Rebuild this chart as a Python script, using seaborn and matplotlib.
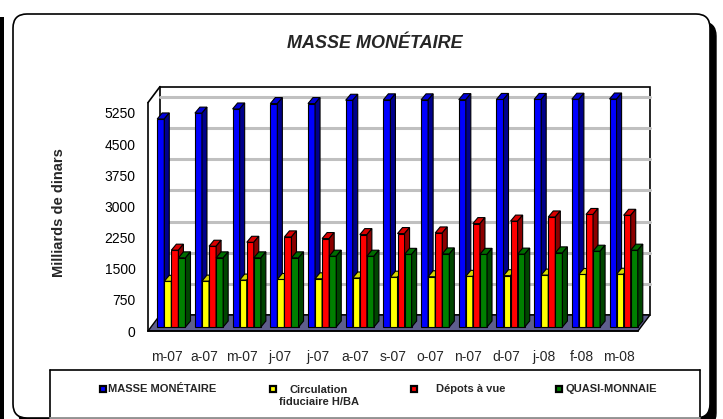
import numpy as np
import pandas as pd
import seaborn as sns
import matplotlib.pyplot as plt
from matplotlib.patches import Rectangle, Polygon, FancyBboxPatch
from matplotlib.lines import Line2D
from matplotlib.transforms import IdentityTransform
from matplotlib.colors import to_rgb

# données (milliards de dinars)
mois = ["m-07", "a-07", "m-07", "j-07", "j-07", "a-07", "s-07",
        "o-07", "n-07", "d-07", "j-08", "f-08", "m-08"]
series = ["MASSE MONÉTAIRE", "Circulation fiduciaire H/BA",
          "Dépots à vue", "QUASI-MONNAIE"]
masse = [5010, 5150, 5250, 5380, 5380, 5460, 5470, 5470, 5475, 5480, 5480, 5485, 5490]
circulation = [1100, 1105, 1130, 1145, 1160, 1180, 1200, 1210, 1220, 1235, 1250, 1265, 1270]
depots = [1850, 1945, 2040, 2170, 2130, 2225, 2250, 2265, 2490, 2550, 2650, 2710, 2690]
quasi = [1665, 1665, 1665, 1665, 1705, 1705, 1750, 1760, 1750, 1755, 1785, 1825, 1850]
yticks = [0, 750, 1500, 2250, 3000, 3750, 4500, 5250]

couleurs = ["#0000FF", "#FFFF00", "#FF0000", "#008000"]

rows = []
for nom, vals in zip(series, [masse, circulation, depots, quasi]):
    for i, v in enumerate(vals):
        rows.append({"pos": i, "serie": nom, "valeur": v})
df = pd.DataFrame(rows)

sns.set_style("white")
plt.rcParams["font.family"] = ["Liberation Sans", "DejaVu Sans"]

W, H = 723, 419
fig = plt.figure(figsize=(W / 100, H / 100), dpi=100)
pix = IdentityTransform()

# cadre arrondi avec ombre
fig.add_artist(Rectangle((0, 0), 4, H - 17, transform=pix, fc="black", ec="none", zorder=-3))
fig.add_artist(FancyBboxPatch((19, -8), 697, 405, boxstyle="round,pad=0,rounding_size=14",
                              transform=pix, fc="black", ec="black", zorder=-3))
fig.add_artist(FancyBboxPatch((13, 1), 697, 404, boxstyle="round,pad=0,rounding_size=14",
                              transform=pix, fc="white", ec="black", lw=1.2, zorder=-2))

ax = fig.add_axes([148 / W, 88 / H, 490 / W, 228.4 / H])
ax.patch.set_visible(False)

sns.barplot(data=df, x="pos", y="valeur", hue="serie", hue_order=series,
            palette=couleurs, width=0.75, saturation=1, edgecolor="black",
            linewidth=0.8, legend=False, ax=ax)
ax.set_xlim(-0.5, len(mois) - 0.5)
ax.set_ylim(0, 5500)


def decale(xd, yd, dxp, dyp):
    p = ax.transData.transform((xd, yd))
    return tuple(ax.transData.inverted().transform((p[0] + dxp, p[1] + dyp)))


def teinte(c, f):
    r, g, b = to_rgb(c)
    return (r * f, g * f, b * f)


# mur du fond, quadrillage et sol (effet 3D)
x0, x1 = -0.5, len(mois) - 0.5
bl = decale(x0, 0, 12, 16)
tr = decale(x1, 5500, 12, 16)
ax.add_patch(Rectangle(bl, tr[0] - bl[0], tr[1] - bl[1], fc="white", ec="black",
                       lw=1.2, zorder=0.5, clip_on=False))
for v in yticks[1:]:
    a = decale(x0, v, 12, 16)
    b = decale(x1, v, 12, 16)
    ax.plot([a[0], b[0]], [a[1], b[1]], color="#c0c0c0", lw=2.2, zorder=0.6, clip_on=False)
ax.add_patch(Polygon([(x0, 0), (x1, 0), decale(x1, 0, 12, 16), decale(x0, 0, 12, 16)],
                     closed=True, fc="#5E5E8C", ec="black", lw=1, zorder=0.7, clip_on=False))
hg = decale(x0, 5500, 12, 16)
ax.plot([x0, hg[0]], [5500, hg[1]], color="black", lw=1.2, zorder=0.8, clip_on=False)

# barres en relief
rgb_list = [tuple(round(c, 2) for c in to_rgb(col)) for col in couleurs]
for bar in list(ax.patches):
    if not isinstance(bar, Rectangle) or bar.get_height() <= 0 or bar.get_width() > 0.5:
        continue
    fc = tuple(round(c, 2) for c in bar.get_facecolor()[:3])
    if fc not in rgb_list:
        continue
    k = rgb_list.index(fc)
    col = couleurs[k]
    w, h = bar.get_width(), bar.get_height()
    xs, ys = decale(bar.get_x(), 0, 4.5, 4)
    bar.set_x(xs)
    bar.set_y(ys)
    bar.set_zorder(2 + k * 0.1)
    bar.set_clip_on(False)
    xe, top = xs + w, ys + h
    ax.add_patch(Polygon([(xs, top), (xe, top), decale(xe, top, 5, 6), decale(xs, top, 5, 6)],
                         closed=True, fc=teinte(col, 0.85), ec="black", lw=0.8,
                         zorder=2 + k * 0.1 + 0.01, clip_on=False))
    ax.add_patch(Polygon([(xe, ys), decale(xe, ys, 5, 6), decale(xe, top, 5, 6), (xe, top)],
                         closed=True, fc=teinte(col, 0.55), ec="black", lw=0.8,
                         zorder=2 + k * 0.1 + 0.01, clip_on=False))

# axes
sns.despine(ax=ax, top=True, right=True)
for s in ["left", "bottom"]:
    ax.spines[s].set_color("black")
    ax.spines[s].set_linewidth(1.2)
    ax.spines[s].set_zorder(3)
ax.set_yticks(yticks)
ax.tick_params(axis="y", direction="out", length=5, width=1, labelsize=10, pad=4, colors="black")
ax.set_xticks(range(len(mois)), labels=mois)
ax.set_xticks(np.arange(-0.5, len(mois)), minor=True)
ax.tick_params(axis="x", which="major", length=0, pad=14, labelsize=10)
ax.tick_params(axis="x", which="minor", direction="out", length=5, width=1, color="black")
ax.set_xlabel("")
ax.set_ylabel("Milliards de dinars", fontsize=10.5, fontweight="bold")
ax.yaxis.set_label_coords(-0.168, 0.52)

fig.text(375 / W, 1 - 44 / H, "MASSE MONÉTAIRE", ha="center", va="center",
         fontsize=13, fontweight="bold", fontstyle="italic")

# légende
fig.add_artist(Line2D([50, 700], [H - 370, H - 370], transform=pix, color="black", lw=1.2))
fig.add_artist(Line2D([50, 50], [0, H - 370], transform=pix, color="black", lw=1.2))
fig.add_artist(Line2D([700, 700], [0, H - 370], transform=pix, color="black", lw=1.2))
fig.add_artist(Line2D([50, 700], [1, 1], transform=pix, color="#b0b0b0", lw=1.2))
leg_x = [103, 273, 414, 559]
txt_x = [108, 319, 436, 565]
libelles = ["MASSE MONÉTAIRE", "Circulation\nfiduciaire H/BA", "Dépots à vue", "QUASI-MONNAIE"]
for mx, tx, lab, col in zip(leg_x, txt_x, libelles, couleurs):
    fig.add_artist(Line2D([mx], [H - 389], transform=pix, marker="s", markersize=5,
                          mfc=col, mec="black", mew=1.6, ls="none"))
    if "\n" in lab:
        fig.text(tx / W, 1 - 396 / H, lab, ha="center", va="center", fontsize=8,
                 fontweight="bold", multialignment="center", linespacing=1.2)
    else:
        fig.text(tx / W, 1 - 389 / H, lab, ha="left", va="center", fontsize=8,
                 fontweight="bold")

fig.savefig("out.png", dpi=100)
